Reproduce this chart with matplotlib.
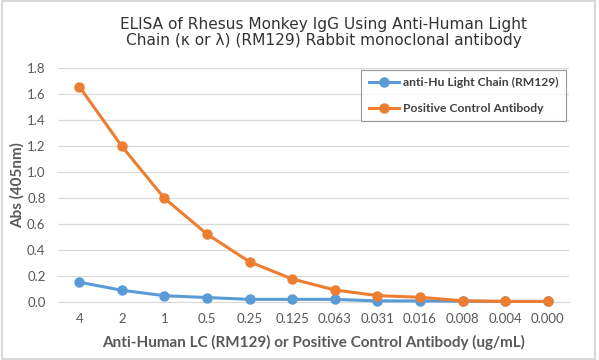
import matplotlib.pyplot as plt
from matplotlib.patches import Rectangle

conc_labels = ["4", "2", "1", "0.5", "0.25", "0.125", "0.063", "0.031",
               "0.016", "0.008", "0.004", "0.000"]
anti_hu = [0.15, 0.088, 0.046, 0.032, 0.018, 0.018, 0.018, 0.006,
           0.006, 0.004, 0.002, 0.002]
pos_ctrl = [1.655, 1.195, 0.795, 0.52, 0.306, 0.175, 0.09, 0.047,
            0.034, 0.007, 0.002, 0.002]

title_lines = ["ELISA of Rhesus Monkey IgG Using Anti-Human Light",
               "Chain (\u03ba or \u03bb) (RM129) Rabbit monoclonal antibody"]
xlabel = "Anti-Human LC (RM129) or Positive Control Antibody (ug/mL)"
series_names = ["anti-Hu Light Chain (RM129)", "Positive Control Antibody"]

BLUE = "#5B9BD5"
ORANGE = "#ED7D31"
W, H = 599, 360

fig = plt.figure(figsize=(W / 100, H / 100), dpi=100)
renderer = fig.canvas.get_renderer()


def fit_size(s, target_px, size0=10, **kw):
    # font size giving the text a width of target_px pixels
    t = fig.text(0, 0, s, fontsize=size0, **kw)
    w = t.get_window_extent(renderer=renderer).width
    t.remove()
    return size0 * target_px / w


ax = fig.add_axes([58 / W, 1 - 301.7 / H, 511 / W, 234 / H])

x = range(len(conc_labels))
ax.plot(x, anti_hu, color=BLUE, lw=2.2, marker="o", ms=6.5,
        label=series_names[0], clip_on=False, zorder=3)
ax.plot(x, pos_ctrl, color=ORANGE, lw=2.2, marker="o", ms=6.5,
        label=series_names[1], clip_on=False, zorder=3)

ax.set_xlim(-0.5, len(conc_labels) - 0.5)
ax.set_ylim(0, 1.8)
ax.set_yticks([i * 0.2 for i in range(10)])
ax.set_yticklabels([f"{i * 0.2:.1f}" for i in range(10)])
ax.set_xticks(list(x))
ax.set_xticklabels(conc_labels)
ax.grid(axis="y", color="#D9D9D9", lw=0.9)
ax.set_axisbelow(True)
for s in ["top", "right", "left"]:
    ax.spines[s].set_visible(False)
ax.spines["bottom"].set_color("#D9D9D9")
ax.tick_params(length=0, colors="#595959", labelsize=9.5)
ax.tick_params(axis="y", pad=9)
ax.tick_params(axis="x", pad=8)
for lab in ax.get_xticklabels() + ax.get_yticklabels():
    lab.set_family("Lato")

ax.set_ylabel("Abs (405nm)", fontsize=11, fontweight="bold", color="#595959",
              family="Lato")
ax.yaxis.set_label_coords(-33 / 511, 0.5)

xl_size = fit_size(xlabel, 423, family="Lato", fontweight="bold")
ax.set_xlabel(xlabel, fontsize=xl_size, fontweight="bold", color="#595959",
              family="Lato")
ax.xaxis.set_label_coords(0.5, -(346.5 - 301.7) / 234)
ax.xaxis.label.set_va("baseline")

t_size = fit_size(title_lines[0], 407)
fig.text(323.5 / W, 1 - 28.5 / H, title_lines[0], ha="center",
         va="baseline", fontsize=t_size, color="#333333")
fig.text(323.5 / W, 1 - 45.5 / H, title_lines[1], ha="center",
         va="baseline", fontsize=t_size, color="#333333")

leg_size = fit_size(series_names[0], 155, family="Lato", fontweight="bold")
leg = ax.legend(loc="upper right", bbox_to_anchor=(566 / W, 1 - 70 / H),
                bbox_transform=fig.transFigure,
                frameon=True, fancybox=False,
                prop={"family": "Lato", "weight": "bold", "size": leg_size},
                handlelength=2.5, handletextpad=0.35, borderpad=0.6,
                labelspacing=1.2, borderaxespad=0)
leg.get_frame().set_edgecolor("#7F7F7F")
leg.get_frame().set_linewidth(0.8)
for t in leg.get_texts():
    t.set_color("#404040")

fig.patches.append(Rectangle((0.003, 0.004), 0.99, 0.992,
                             transform=fig.transFigure, fill=False,
                             edgecolor="#D9D9D9", lw=1.5))

plt.savefig("out.png")
